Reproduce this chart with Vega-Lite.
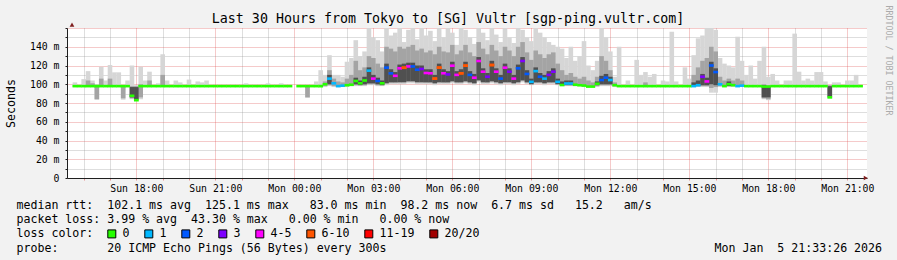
{
"$schema": "https://vega.github.io/schema/vega-lite/v6.json",
"width": 800, "height": 150,
"autosize": {"type": "none"},
"padding": {"left": 67, "top": 28, "right": 30, "bottom": 82},
"background": "#f2f2f2",
"config": {
 "view": {"fill": "white", "stroke": null},
 "font": "DejaVu Sans Mono",
 "axis": {"labelFont": "DejaVu Sans Mono", "labelFontSize": 9.8, "labelColor": "black", "titleFont": "DejaVu Sans Mono", "titleFontWeight": "normal", "titleColor": "black", "domainColor": "#1f1f1f", "labelOverlap": false, "labelFlush": false, "gridDash": [1,1], "gridWidth": 1},
 "legend": {"orient": "none", "direction": "horizontal", "title": null, "symbolType": "square", "symbolSize": 64, "symbolStrokeColor": "black", "symbolStrokeWidth": 1, "symbolOpacity": 1, "labelFont": "DejaVu Sans Mono", "labelFontSize": 11.6, "labelColor": "black", "labelOffset": 5, "columnPadding": 12, "padding": 0}
},
"title": {"text": "Last 30 Hours from Tokyo to [SG] Vultr [sgp-ping.vultr.com]", "anchor": "middle", "frame": "group", "dx": -19, "offset": -31.5, "baseline": "alphabetic", "font": "DejaVu Sans Mono", "fontSize": 13.3, "fontWeight": "normal", "color": "black"},
"data": {"values": [
{"t":940,"m":98,"g":"0","a":97,"b":102},
{"t":950,"m":98,"g":"0"},
{"t":960,"m":98,"g":"0","a":97,"b":105.5},
{"t":970,"m":98,"g":"0","a":97,"b":114,"c":98,"d":104},
{"t":980,"m":98,"g":"0","a":97,"b":104,"c":98,"d":101},
{"t":990,"m":98,"g":"0","a":83.5,"b":100,"c":84,"d":98},
{"t":1000,"m":98,"g":"0","a":97,"b":118.7,"c":98,"d":106},
{"t":1010,"m":98,"g":"0","a":97,"b":104},
{"t":1020,"m":98,"g":"0","a":97,"b":120.5,"c":98,"d":106},
{"t":1030,"m":98,"g":"0","a":97,"b":112.7},
{"t":1040,"m":98,"g":"0","a":97,"b":112.7},
{"t":1050,"m":98,"g":"0","a":83.5,"b":99,"c":85,"d":98},
{"t":1060,"m":98,"g":"0","a":97,"b":104},
{"t":1070,"m":87.8,"g":"0","a":84,"b":120,"c":85,"d":98,"e":86,"f":97},
{"t":1080,"m":83,"g":"0","a":83,"b":99,"c":83,"d":98,"e":84,"f":97},
{"t":1090,"m":98,"g":"0","a":84,"b":118.7,"c":86,"d":100},
{"t":1100,"m":98,"g":"0","a":97,"b":104},
{"t":1110,"m":98,"g":"0","a":97,"b":113.4,"c":98,"d":104},
{"t":1120,"m":98,"g":"0"},
{"t":1130,"m":98,"g":"0","a":97,"b":101},
{"t":1140,"m":98,"g":"0","a":97,"b":132,"c":98,"d":110},
{"t":1150,"m":98,"g":"0","a":97,"b":104},
{"t":1160,"m":98,"g":"0"},
{"t":1170,"m":98,"g":"0","a":97,"b":104},
{"t":1180,"m":98,"g":"0","a":97,"b":102},
{"t":1190,"m":98,"g":"0"},
{"t":1200,"m":98,"g":"0","a":97,"b":105},
{"t":1210,"m":98,"g":"0"},
{"t":1220,"m":98,"g":"0","a":97,"b":103},
{"t":1230,"m":98,"g":"0","a":97,"b":102},
{"t":1240,"m":98,"g":"0","a":97,"b":104},
{"t":1250,"m":98,"g":"0"},
{"t":1260,"m":98,"g":"0"},
{"t":1270,"m":98,"g":"0"},
{"t":1280,"m":98,"g":"0"},
{"t":1290,"m":98,"g":"0"},
{"t":1300,"m":98,"g":"0"},
{"t":1310,"m":98,"g":"0"},
{"t":1320,"m":98,"g":"0"},
{"t":1330,"m":98,"g":"0","a":97,"b":101},
{"t":1340,"m":98,"g":"0"},
{"t":1350,"m":98,"g":"0"},
{"t":1360,"m":98,"g":"0"},
{"t":1370,"m":98,"g":"0"},
{"t":1380,"m":98,"g":"0","a":97,"b":101},
{"t":1390,"m":98,"g":"0"},
{"t":1400,"m":98,"g":"0"},
{"t":1410,"m":98,"g":"0","a":97,"b":101},
{"t":1420,"m":98,"g":"0"},
{"t":1430,"m":98,"g":"0"},
{"t":1440},
{"t":1450,"m":98,"g":"0"},
{"t":1460,"m":98,"g":"0"},
{"t":1470,"m":98,"g":"0","a":85.7,"b":99,"c":86,"d":98},
{"t":1480,"m":98,"g":"0"},
{"t":1490,"m":98,"g":"0","a":97,"b":103},
{"t":1500,"m":98,"g":"0","a":97,"b":115},
{"t":1510,"m":100,"g":"0","a":97,"b":110,"c":98,"d":103},
{"t":1520,"m":106,"g":"1","a":98,"b":131,"c":99,"d":115,"e":100,"f":110},
{"t":1530,"m":101,"g":"1","a":97,"b":110,"c":98,"d":106},
{"t":1540,"m":98,"g":"1","a":97,"b":110,"c":97,"d":103},
{"t":1550,"m":98.5,"g":"1","a":97,"b":108,"c":98,"d":102},
{"t":1560,"m":99,"g":"0","a":97,"b":124,"c":98,"d":106},
{"t":1570,"m":99.5,"g":"0","a":98,"b":128,"c":98,"d":110},
{"t":1580,"m":103.5,"g":"0","a":98,"b":147,"c":99,"d":125,"e":100,"f":107},
{"t":1590,"m":101,"g":"0","a":98,"b":130,"c":99,"d":115,"e":99,"f":104},
{"t":1600,"m":104,"g":"0","a":98,"b":135,"c":99,"d":118,"e":100,"f":108},
{"t":1610,"m":114.5,"g":"1","a":99,"b":160,"c":100,"d":130,"e":101,"f":118},
{"t":1620,"m":106,"g":"4-5","a":99,"b":150,"c":100,"d":128,"e":101,"f":110},
{"t":1630,"m":103.5,"g":"2","a":98,"b":147,"c":99,"d":122,"e":100,"f":107},
{"t":1640,"m":101,"g":"0","a":98,"b":135,"c":99,"d":118,"e":99,"f":104},
{"t":1650,"m":117.7,"g":"2","a":99,"b":160,"c":101,"d":140,"e":101,"f":122},
{"t":1660,"m":111.6,"g":"2","a":100,"b":152,"c":102,"d":138,"e":102,"f":116},
{"t":1670,"m":109,"g":"4-5","a":100,"b":155,"c":102,"d":135,"e":102,"f":113},
{"t":1680,"m":117,"g":"4-5","a":100,"b":160,"c":104,"d":140,"e":102,"f":121},
{"t":1690,"m":117.6,"g":"6-10","a":100,"b":145,"c":104,"d":138,"e":102,"f":122},
{"t":1700,"m":119,"g":"4-5","a":101,"b":158,"c":105,"d":140,"e":103,"f":123},
{"t":1710,"m":119,"g":"2","a":101,"b":160,"c":104,"d":142,"e":103,"f":123},
{"t":1720,"m":115.5,"g":"2","a":100,"b":148,"c":103,"d":136,"e":102,"f":120},
{"t":1730,"m":116.3,"g":"3","a":100,"b":160,"c":103,"d":138,"e":102,"f":120},
{"t":1740,"m":112,"g":"4-5","a":100,"b":152,"c":102,"d":134,"e":102,"f":116},
{"t":1750,"m":111.7,"g":"4-5","a":100,"b":157,"c":102,"d":136,"e":102,"f":116},
{"t":1760,"m":106,"g":"6-10","a":99,"b":146,"c":101,"d":132,"e":101,"f":110},
{"t":1770,"m":117.7,"g":"6-10","a":100,"b":160,"c":103,"d":140,"e":102,"f":122},
{"t":1780,"m":111.7,"g":"4-5","a":100,"b":150,"c":102,"d":135,"e":102,"f":116},
{"t":1790,"m":110.5,"g":"3","a":100,"b":160,"c":102,"d":134,"e":102,"f":114},
{"t":1800,"m":119.8,"g":"4-5","a":101,"b":155,"c":104,"d":142,"e":103,"f":124},
{"t":1810,"m":110,"g":"4-5","a":100,"b":142,"c":102,"d":132,"e":102,"f":114},
{"t":1820,"m":111.7,"g":"6-10","a":100,"b":160,"c":102,"d":136,"e":102,"f":116},
{"t":1830,"m":119.8,"g":"6-10","a":101,"b":158,"c":104,"d":142,"e":103,"f":124},
{"t":1840,"m":110,"g":"2","a":100,"b":150,"c":102,"d":134,"e":102,"f":114},
{"t":1850,"m":107,"g":"4-5","a":99,"b":143,"c":101,"d":130,"e":101,"f":111},
{"t":1860,"m":124.8,"g":"4-5","a":102,"b":160,"c":106,"d":145,"e":104,"f":129},
{"t":1870,"m":113.4,"g":"4-5","a":100,"b":155,"c":103,"d":138,"e":102,"f":117},
{"t":1880,"m":108,"g":"3","a":100,"b":147,"c":102,"d":132,"e":102,"f":112},
{"t":1890,"m":120.5,"g":"6-10","a":101,"b":160,"c":104,"d":142,"e":103,"f":125},
{"t":1900,"m":113.4,"g":"4-5","a":100,"b":153,"c":103,"d":136,"e":102,"f":117},
{"t":1910,"m":106,"g":"2","a":99,"b":145,"c":101,"d":130,"e":101,"f":110},
{"t":1920,"m":117.7,"g":"4-5","a":100,"b":160,"c":104,"d":140,"e":102,"f":122},
{"t":1930,"m":113.4,"g":"3","a":100,"b":150,"c":103,"d":136,"e":102,"f":117},
{"t":1940,"m":106,"g":"4-5","a":99,"b":144,"c":101,"d":130,"e":101,"f":110},
{"t":1950,"m":117,"g":"2","a":100,"b":160,"c":103,"d":140,"e":102,"f":121},
{"t":1960,"m":124.8,"g":"3","a":102,"b":158,"c":106,"d":145,"e":104,"f":129},
{"t":1970,"m":111,"g":"2","a":100,"b":150,"c":102,"d":134,"e":102,"f":115},
{"t":1980,"m":102.6,"g":"1","a":99,"b":146,"c":100,"d":126,"e":100,"f":106},
{"t":1990,"m":114,"g":"1","a":100,"b":160,"c":102,"d":136,"e":102,"f":118},
{"t":2000,"m":108,"g":"2","a":100,"b":155,"c":102,"d":132,"e":102,"f":112},
{"t":2010,"m":106,"g":"1","a":99,"b":150,"c":101,"d":128,"e":101,"f":110},
{"t":2020,"m":110,"g":"3","a":100,"b":145,"c":102,"d":132,"e":102,"f":114},
{"t":2030,"m":113.4,"g":"3","a":100,"b":142,"c":102,"d":134,"e":102,"f":117},
{"t":2040,"m":102.6,"g":"1","a":99,"b":140,"c":100,"d":122,"e":100,"f":106},
{"t":2050,"m":99.2,"g":"0","a":98,"b":138,"c":99,"d":115,"e":99,"f":103},
{"t":2060,"m":100.8,"g":"1","a":98,"b":128,"c":99,"d":110,"e":99,"f":104},
{"t":2070,"m":100.8,"g":"1","a":98,"b":140,"c":99,"d":112,"e":99,"f":104},
{"t":2080,"m":99.5,"g":"0","a":98,"b":125,"c":98,"d":108},
{"t":2090,"m":99,"g":"0","a":98,"b":130,"c":98,"d":106},
{"t":2100,"m":98.6,"g":"0","a":97,"b":146,"c":98,"d":108},
{"t":2110,"m":97.5,"g":"0","a":97,"b":120,"c":97,"d":104},
{"t":2120,"m":97.5,"g":"0","a":97,"b":115,"c":97,"d":102},
{"t":2130,"m":100.5,"g":"0","a":97,"b":125,"c":98,"d":108,"e":99,"f":103},
{"t":2140,"m":104.5,"g":"2","a":98,"b":160,"c":99,"d":130,"e":100,"f":109},
{"t":2150,"m":107,"g":"2","a":98,"b":150,"c":99,"d":125,"e":100,"f":111},
{"t":2160,"m":104.5,"g":"1","a":98,"b":135,"c":99,"d":115,"e":100,"f":108},
{"t":2170,"m":99,"g":"0","a":97,"b":108,"c":98,"d":102},
{"t":2180,"m":98,"g":"0","a":97,"b":140},
{"t":2190,"m":98,"g":"0"},
{"t":2200,"m":98,"g":"0","a":97,"b":104},
{"t":2210,"m":98,"g":"0"},
{"t":2220,"m":98,"g":"0","a":97,"b":126},
{"t":2230,"m":98,"g":"0","a":97,"b":110},
{"t":2240,"m":98,"g":"0","a":97,"b":113,"c":97,"d":102},
{"t":2250,"m":98,"g":"0","a":97,"b":108},
{"t":2260,"m":98,"g":"0","a":97,"b":111},
{"t":2270,"m":98,"g":"0"},
{"t":2280,"m":98,"g":"0","a":97,"b":104},
{"t":2290,"m":98,"g":"0","a":97,"b":103},
{"t":2300,"m":98,"g":"0","a":97,"b":156},
{"t":2310,"m":98,"g":"0","a":97,"b":103},
{"t":2320,"m":98,"g":"0"},
{"t":2330,"m":98,"g":"0","a":97,"b":118},
{"t":2340,"m":98,"g":"0","a":97,"b":106},
{"t":2350,"m":98,"g":"1","a":97,"b":131,"c":98,"d":110,"e":98,"f":102},
{"t":2360,"m":99,"g":"1","a":97,"b":149,"c":98,"d":118,"e":98,"f":104},
{"t":2370,"m":108,"g":"3","a":97,"b":152,"c":98,"d":125,"e":99,"f":111},
{"t":2380,"m":103,"g":"4-5","a":97,"b":160,"c":98,"d":128,"e":99,"f":107},
{"t":2390,"m":120,"g":"2","a":91,"b":160,"c":96,"d":140,"e":100,"f":124},
{"t":2400,"m":113,"g":"2","a":91,"b":158,"c":97,"d":135,"e":99,"f":117},
{"t":2410,"m":100,"g":"1","a":97,"b":128,"c":98,"d":108},
{"t":2420,"m":98,"g":"0","a":97,"b":122,"c":98,"d":104},
{"t":2430,"m":100,"g":"0","a":97,"b":120,"c":98,"d":106,"e":98,"f":103},
{"t":2440,"m":99,"g":"0","a":97,"b":118,"c":98,"d":104},
{"t":2450,"m":98,"g":"1","a":97,"b":150.7,"c":98,"d":106},
{"t":2460,"m":98.5,"g":"1","a":97,"b":125,"c":98,"d":104},
{"t":2470,"m":98,"g":"0","a":97,"b":110},
{"t":2480,"m":98,"g":"0","a":97,"b":120},
{"t":2490,"m":98,"g":"0","a":97,"b":106},
{"t":2500,"m":98,"g":"0","a":97,"b":125},
{"t":2510,"m":97.5,"g":"0","a":84,"b":140,"c":85,"d":100,"e":86,"f":99},
{"t":2520,"m":97.5,"g":"0","a":83,"b":108,"c":84,"d":99,"e":86,"f":98},
{"t":2530,"m":98,"g":"0","a":97,"b":111},
{"t":2540,"m":98,"g":"0","a":97,"b":104},
{"t":2550,"m":98,"g":"0"},
{"t":2560,"m":98,"g":"0","a":97,"b":104},
{"t":2570,"m":98,"g":"0","a":97,"b":104},
{"t":2580,"m":98,"g":"0","a":97,"b":154},
{"t":2590,"m":98,"g":"0","a":97,"b":113.4},
{"t":2600,"m":98,"g":"0","a":97,"b":104},
{"t":2610,"m":98,"g":"0","a":97,"b":106},
{"t":2620,"m":98,"g":"0","a":97,"b":104},
{"t":2630,"m":98,"g":"0","a":97,"b":113},
{"t":2640,"m":98,"g":"0","a":97,"b":113},
{"t":2650,"m":98,"g":"0","a":97,"b":103},
{"t":2660,"m":86,"g":"0","a":85.5,"b":99,"c":86,"d":99,"e":87,"f":98},
{"t":2670,"m":98,"g":"0","a":97,"b":102},
{"t":2680,"m":98,"g":"0","a":97,"b":102},
{"t":2690,"m":98,"g":"0"},
{"t":2700,"m":98,"g":"0","a":97,"b":104},
{"t":2710,"m":98,"g":"0","a":97,"b":104},
{"t":2720,"m":98,"g":"0","a":97,"b":110},
{"t":2730,"m":98,"g":"0"}
]},
"encoding": {
 "x": {"field": "t", "type": "quantitative",
  "scale": {"domain": [933.4, 2733.4], "nice": false, "zero": false},
  "axis": {
   "values": [960,1020,1080,1140,1200,1260,1320,1380,1440,1500,1560,1620,1680,1740,1800,1860,1920,1980,2040,2100,2160,2220,2280,2340,2400,2460,2520,2580,2640,2700],
   "labelExpr": "datum.value % 180 == 0 ? ((datum.value < 1440 ? 'Sun ' : 'Mon ') + (floor(datum.value / 60) % 24 < 10 ? '0' : '') + floor(datum.value / 60) % 24 + ':00') : ''",
   "labelPadding": 3, "tickSize": 2, "tickColor": "rgba(222,79,79,0.6)",
   "grid": true,
   "gridColor": {"condition": {"test": "datum.value % 180 == 0", "value": "rgba(222,79,79,0.6)"}, "value": "rgba(143,143,143,0.6)"},
   "title": ["median rtt:\u00a0\u00a0102.1 ms avg\u00a0\u00a0125.1 ms max\u00a0\u00a0\u00a083.0 ms min\u00a0\u00a098.2 ms now\u00a0\u00a06.7 ms sd\u00a0\u00a0\u00a015.2\u00a0\u00a0\u00a0am/s", "packet loss: 3.99 % avg\u00a0\u00a043.30 % max\u00a0\u00a0\u00a00.00 % min\u00a0\u00a0\u00a00.00 % now", "loss color:", "probe:\u00a0\u00a0\u00a0\u00a0\u00a0\u00a0\u00a020 ICMP Echo Pings (56 Bytes) every 300s\u00a0\u00a0\u00a0\u00a0\u00a0\u00a0\u00a0\u00a0\u00a0\u00a0\u00a0\u00a0\u00a0\u00a0\u00a0\u00a0\u00a0\u00a0\u00a0\u00a0\u00a0\u00a0\u00a0\u00a0\u00a0\u00a0\u00a0\u00a0\u00a0\u00a0\u00a0\u00a0\u00a0\u00a0\u00a0\u00a0\u00a0\u00a0\u00a0\u00a0\u00a0\u00a0\u00a0\u00a0\u00a0\u00a0\u00a0Mon Jan\u00a0\u00a05 21:33:26 2026"],
   "titleX": -51, "titleY": 30.5, "titleAlign": "left", "titleAnchor": "start", "titleBaseline": "alphabetic", "titleAngle": 0,
   "titleFontSize": 11.6, "titleLineHeight": 14.2
  }
 }
},
"layer": [
 {"mark": {"type": "bar", "width": 4.6, "color": "#d6d6d6", "invalid": "filter"},
  "encoding": {
   "y": {"field": "a", "type": "quantitative", "scale": {"domain": [0, 160], "nice": false, "zero": false},
    "axis": {"orient": "left", "values": [0,10,20,30,40,50,60,70,80,90,100,110,120,130,140,150,160],
     "labelExpr": "datum.value == 0 ? '0' : (datum.value % 20 == 0 && datum.value < 160 ? datum.value + ' m' : '')",
     "labelPadding": 6, "tickSize": 2, "tickColor": "#1f1f1f",
     "grid": true,
     "gridColor": {"condition": {"test": "datum.value % 20 == 0", "value": "rgba(222,79,79,0.6)"}, "value": "rgba(143,143,143,0.6)"},
     "title": "Seconds", "titleFontSize": 11.6, "titleX": -53, "titleY": 75, "titleAngle": -90, "titleAlign": "center", "titleBaseline": "alphabetic"}},
   "y2": {"field": "b"}
  }},
 {"mark": {"type": "bar", "width": 4.6, "color": "#a4a4a4", "invalid": "filter"},
  "encoding": {
   "y": {"field": "c", "type": "quantitative", "scale": {"domain": [0, 160], "nice": false, "zero": false},
    "axis": {"orient": "right", "labels": false, "ticks": false, "domain": false, "grid": false,
     "title": "RRDTOOL / TOBI OETIKER", "titleAngle": 90, "titleX": 20.5, "titleY": -23, "titleAlign": "left", "titleBaseline": "middle",
     "titleFontSize": 8.3, "titleColor": "#ababab"}},
   "y2": {"field": "d"}
  }},
 {"mark": {"type": "bar", "width": 4.6, "color": "#505050", "invalid": "filter"},
  "encoding": {
   "y": {"field": "e", "type": "quantitative", "scale": {"domain": [0, 160], "nice": false, "zero": false}, "axis": null},
   "y2": {"field": "f"}
  }},
 {"mark": {"type": "tick", "orient": "horizontal", "thickness": 2.6, "size": 4.8, "opacity": 1, "invalid": "filter"},
  "encoding": {
   "y": {"field": "m", "type": "quantitative", "scale": {"domain": [0, 160], "nice": false, "zero": false}, "axis": null},
   "color": {"field": "g", "type": "nominal",
    "scale": {"domain": ["0","1","2","3","4-5","6-10","11-19","20/20"], "range": ["#26ff00","#00b8ff","#0059ff","#7e00ff","#ff00ff","#ff5500","#ff0000","#a00000"]},
    "legend": {"values": ["0","1","2","3","4-5"], "legendX": 39, "legendY": 200}}
  }},
 {"transform": [{"filter": {"field": "g", "oneOf": ["6-10","11-19","20/20"]}}],
  "mark": {"type": "tick", "orient": "horizontal", "thickness": 2.6, "size": 4.8, "opacity": 1, "invalid": "filter"},
  "encoding": {
   "y": {"field": "m", "type": "quantitative", "scale": {"domain": [0, 160], "nice": false, "zero": false}, "axis": null},
   "fill": {"field": "g", "type": "nominal",
    "scale": {"domain": ["6-10","11-19","20/20"], "range": ["#ff5500","#ff0000","#a00000"]},
    "legend": {"legendX": 238, "legendY": 200}}
  }},
 {"data": {"values": [{"t": 933.4, "v": 163.6, "s": "triangle-up"}, {"t": 2742, "v": 0, "s": "triangle-right"}]},
  "mark": {"type": "point", "filled": true, "color": "#801f1f", "size": 22, "opacity": 1},
  "encoding": {
   "y": {"field": "v", "type": "quantitative", "scale": {"domain": [0, 160], "nice": false, "zero": false}, "axis": null},
   "shape": {"field": "s", "type": "nominal", "scale": null}
  }}
],
"resolve": {"axis": {"y": "independent"}}
}
